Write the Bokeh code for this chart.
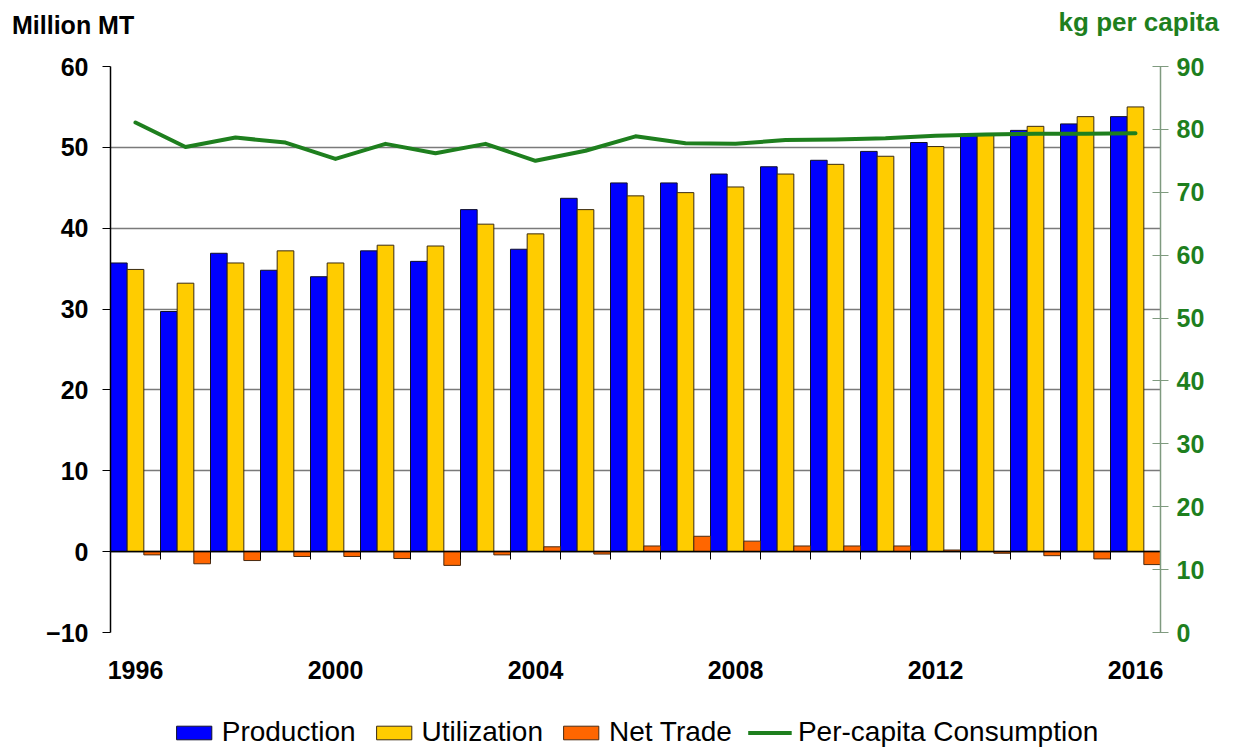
from bokeh.plotting import figure
from bokeh.layouts import column
from bokeh.models import (ColumnDataSource, Range1d, LinearAxis, FixedTicker, Legend,
                          LegendItem, CustomJSTickFormatter, Div)
from bokeh.transform import dodge
from bokeh.embed import file_html
from bokeh.resources import INLINE

years = list(range(1996, 2017))
production = [35.7, 29.7, 36.9, 34.8, 34.0, 37.2, 35.9, 42.3, 37.4, 43.7, 45.6, 45.6, 46.7,
              47.6, 48.4, 49.5, 50.6, 51.6, 52.1, 52.9, 53.8]
utilization = [34.9, 33.2, 35.7, 37.2, 35.7, 37.9, 37.8, 40.5, 39.3, 42.3, 44.0, 44.4, 45.1,
               46.7, 47.9, 48.9, 50.1, 51.5, 52.6, 53.8, 55.0]
net_trade = [-0.4, -1.5, -1.1, -0.6, -0.6, -0.85, -1.7, -0.4, 0.6, -0.3, 0.7, 1.9, 1.3,
             0.7, 0.7, 0.7, 0.2, -0.2, -0.5, -0.9, -1.6]
per_capita = [81.1, 77.2, 78.7, 77.9, 75.3, 77.7, 76.2, 77.7, 75.0, 76.6, 78.9, 77.8, 77.7,
              78.3, 78.4, 78.6, 79.0, 79.2, 79.3, 79.3, 79.4]
label_years = [1996, 2000, 2004, 2008, 2012, 2016]
left_ticks = [-10, 0, 10, 20, 30, 40, 50, 60]
right_ticks = [0, 10, 20, 30, 40, 50, 60, 70, 80, 90]
left_unit = "Million MT"
right_unit = "kg per capita"
series_names = ["Production", "Utilization", "Net Trade", "Per-capita Consumption"]

BLUE = "#0000FF"
YELLOW = "#FFCC00"
ORANGE = "#FF6600"
GREEN = "#1E7F1E"
FONT = "Liberation Sans"
BAR_LINES = ["#10102a", "#3a2a10", "#4a2a10"]

src = ColumnDataSource(dict(year=years, production=production, utilization=utilization,
                            net_trade=net_trade, per_capita=per_capita))

TOTAL_W = 1235
LEFT_B, RIGHT_B = 110, 75

# ---- header with the two unit captions ----
header_html = (
    '<div style="display:flex;justify-content:space-between;align-items:flex-start;'
    f'width:{TOTAL_W}px;height:48px;font-family:\'Liberation Sans\',Arial,sans-serif;'
    'font-weight:bold;line-height:1.15;">'
    f'<span style="margin-left:12px;margin-top:11px;font-size:25px;color:#000;">{left_unit}</span>'
    f'<span style="margin-right:16px;margin-top:8px;font-size:26px;color:{GREEN};">{right_unit}</span>'
    '</div>'
)
header = Div(text=header_html, width=TOTAL_W, height=48, margin=0)

# ---- main chart ----
p = figure(frame_width=1050, frame_height=566, x_range=Range1d(1995.5, 2016.5),
           y_range=Range1d(-10, 60), output_backend="svg", toolbar_location=None,
           min_border_left=LEFT_B, min_border_right=RIGHT_B, min_border_top=18,
           min_border_bottom=56)
p.extra_y_ranges = {"pc": Range1d(0, 90)}
p.outline_line_color = None
p.background_fill_color = "white"
p.border_fill_color = "white"

w = 1 / 3
p.vbar(x=dodge("year", -w, range=p.x_range), top="production", bottom=0, width=w,
       source=src, fill_color=BLUE, line_color=BAR_LINES[0], line_width=1)
p.vbar(x="year", top="utilization", bottom=0, width=w,
       source=src, fill_color=YELLOW, line_color=BAR_LINES[1], line_width=1)
p.vbar(x=dodge("year", w, range=p.x_range), top="net_trade", bottom=0, width=w,
       source=src, fill_color=ORANGE, line_color=BAR_LINES[2], line_width=1)
p.line(x="year", y="per_capita", source=src, y_range_name="pc",
       line_color=GREEN, line_width=4, line_join="round", line_cap="round")

# grid
p.xgrid.visible = False
p.ygrid.ticker = FixedTicker(ticks=left_ticks)
p.ygrid.grid_line_color = "#7a7a7a"
p.ygrid.grid_line_width = 1.5

# bottom x axis (labels only)
xa = p.xaxis[0]
xa.ticker = FixedTicker(ticks=label_years)
xa.axis_line_color = None
xa.major_tick_line_color = None
xa.minor_tick_line_color = None
xa.major_label_standoff = 22
xa.major_label_text_font = FONT
xa.major_label_text_font_style = "bold"
xa.major_label_text_font_size = "25px"
xa.major_label_text_color = "black"

# left axis
ya = p.yaxis[0]
ya.ticker = FixedTicker(ticks=left_ticks)
ya.axis_line_color = "black"
ya.axis_line_width = 1.5
ya.major_tick_out = 8
ya.major_tick_in = 0
ya.major_tick_line_color = "black"
ya.minor_tick_line_color = None
ya.major_label_standoff = 14
ya.major_label_text_font = FONT
ya.major_label_text_font_style = "bold"
ya.major_label_text_font_size = "25px"
ya.major_label_text_color = "black"

# right axis
ra = LinearAxis(y_range_name="pc", ticker=FixedTicker(ticks=right_ticks))
ra.axis_line_color = "#7f9a7f"
ra.axis_line_width = 1.5
ra.major_tick_line_color = "#7f9a7f"
ra.major_tick_out = 8
ra.major_tick_in = 8
ra.minor_tick_line_color = None
ra.major_label_standoff = 8
ra.major_label_text_font = FONT
ra.major_label_text_font_style = "bold"
ra.major_label_text_font_size = "25px"
ra.major_label_text_color = GREEN
p.add_layout(ra, "right")

# zero line axis with category boundary ticks (drawn at y=0, ticks pointing down)
za = LinearAxis(fixed_location=0, ticker=FixedTicker(ticks=[y + 0.5 for y in years[:-1]]),
                formatter=CustomJSTickFormatter(code="return ''"))
za.axis_line_color = "black"
za.axis_line_width = 1.5
za.major_tick_line_color = "black"
za.major_tick_out = 0
za.major_tick_in = 8
za.minor_tick_line_color = None
za.major_label_standoff = 0
za.major_label_text_font_size = "1px"
p.add_layout(za, "above")

# ---- footer carrying the legend (its renderers use the same data, outside its view) ----
foot = figure(frame_width=1050, frame_height=63, x_range=Range1d(1995.5, 2016.5),
              y_range=Range1d(200, 201),
              output_backend="svg", toolbar_location=None, x_axis_location=None,
              y_axis_location=None, min_border_left=LEFT_B, min_border_right=RIGHT_B,
              min_border_top=0, min_border_bottom=0)
foot.grid.visible = False
foot.outline_line_color = None
foot.background_fill_color = "white"
foot.border_fill_color = "white"
g1 = foot.vbar(x="year", top="production", bottom=0, width=w, source=src,
               fill_color=BLUE, line_color=BAR_LINES[0], line_width=1)
g2 = foot.vbar(x="year", top="utilization", bottom=0, width=w, source=src,
               fill_color=YELLOW, line_color=BAR_LINES[1], line_width=1)
g3 = foot.vbar(x="year", top="net_trade", bottom=0, width=w, source=src,
               fill_color=ORANGE, line_color=BAR_LINES[2], line_width=1)
g4 = foot.line(x="year", y="per_capita", source=src, line_color=GREEN, line_width=4)

legend = Legend(items=[LegendItem(label=n, renderers=[r])
                       for n, r in zip(series_names, [g1, g2, g3, g4])],
                orientation="horizontal", location="bottom_center")
legend.border_line_color = None
legend.background_fill_alpha = 0
legend.label_text_font = FONT
legend.label_text_font_size = "28px"
legend.label_text_color = "black"
legend.glyph_width = 44
legend.glyph_height = 17
legend.spacing = 16
legend.label_standoff = 6
legend.padding = 0
legend.margin = 3
foot.add_layout(legend, "center")

layout = column(header, p, foot, spacing=0)
open("out.html", "w").write(file_html(layout, INLINE))
